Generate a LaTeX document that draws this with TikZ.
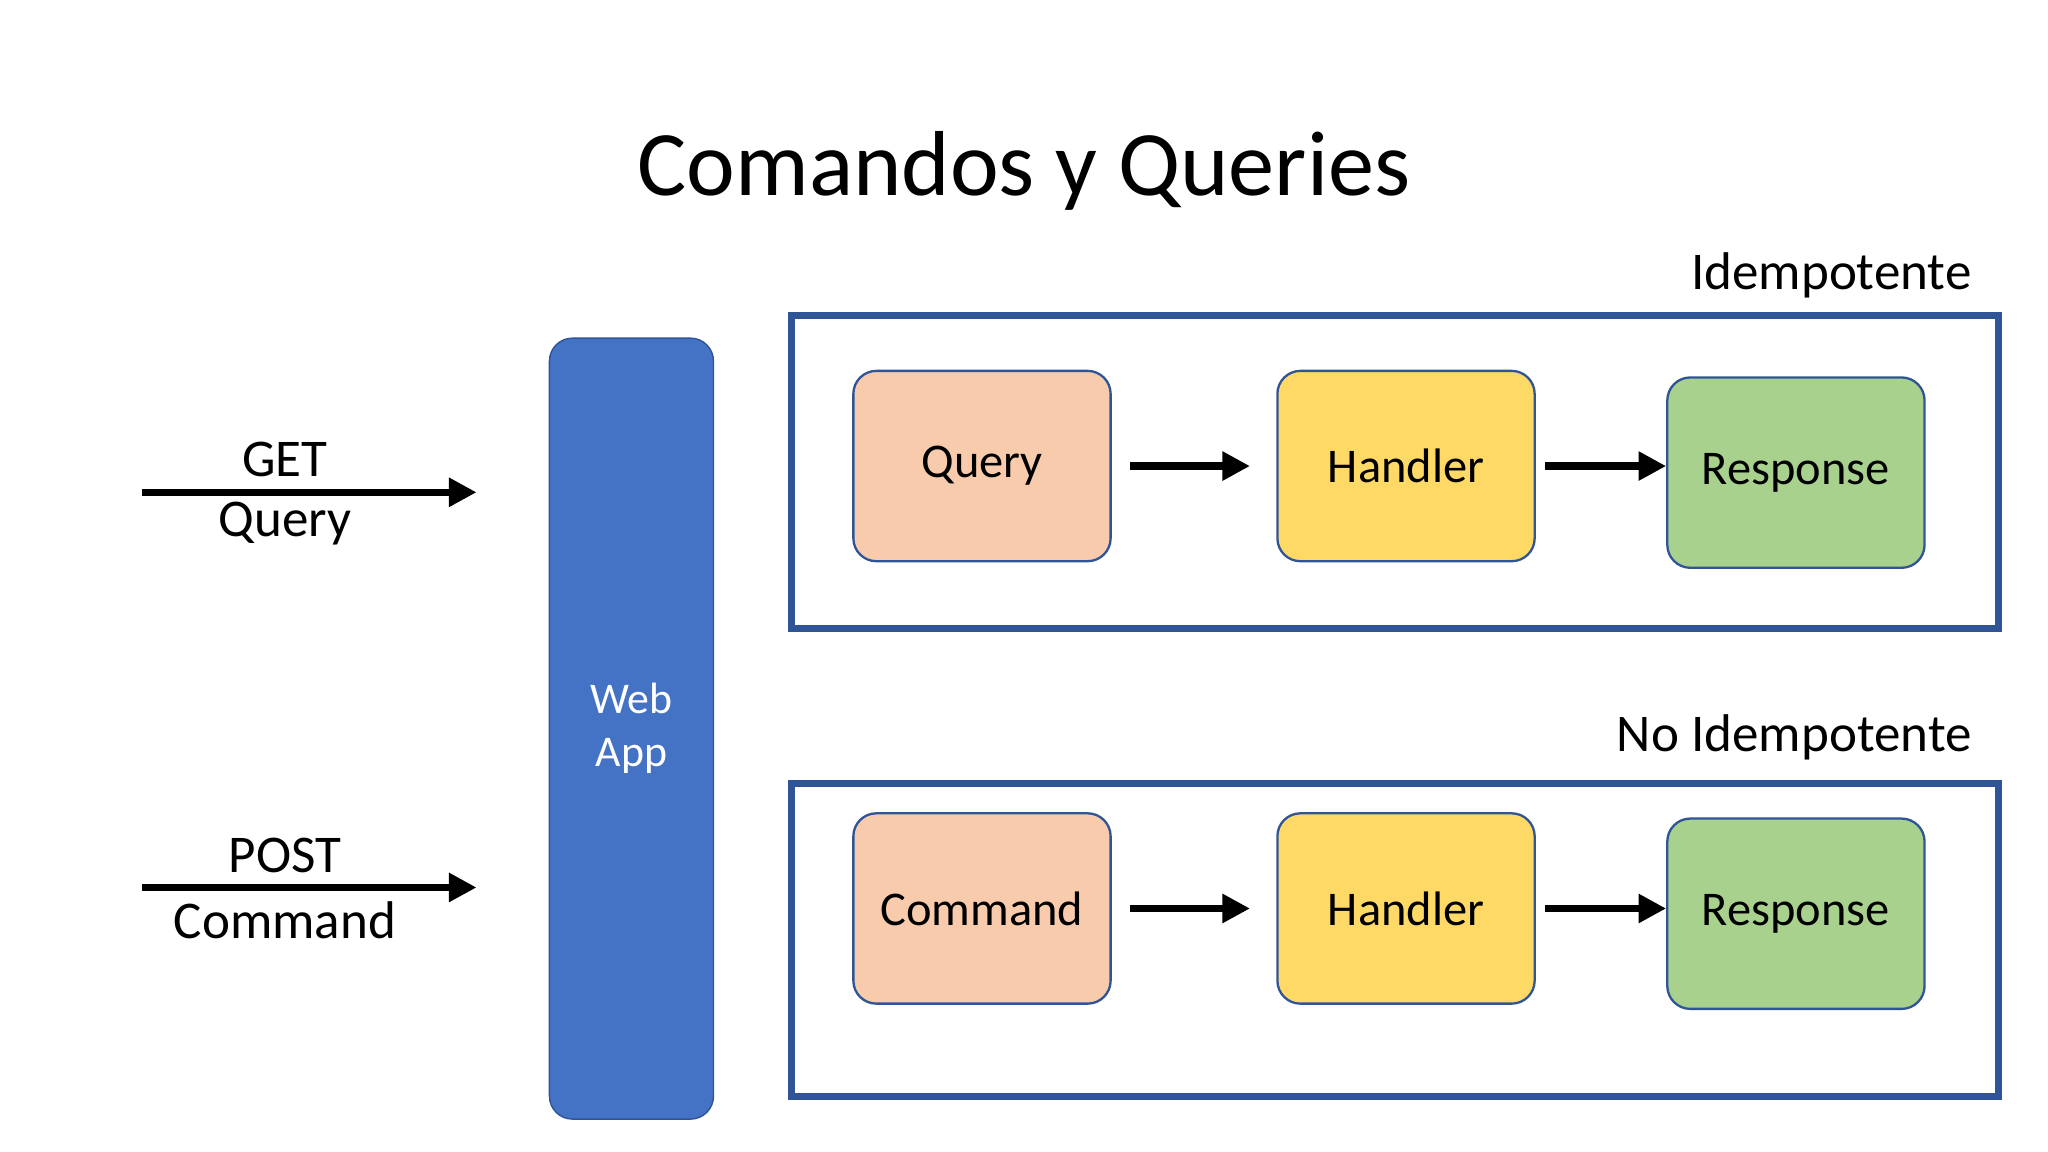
\documentclass[tikz,border=0pt]{standalone}
\usepackage{fontspec}
\setmainfont{Carlito}
\usetikzlibrary{arrows.meta}
\definecolor{frameblue}{HTML}{2F5597}
\definecolor{appblue}{HTML}{4472C4}
\definecolor{qfill}{HTML}{F8CBAD}
\definecolor{hfill}{HTML}{FFD966}
\definecolor{rfill}{HTML}{A9D18E}
\begin{document}
\begin{tikzpicture}[x=0.02cm,y=-0.02cm,
  box/.style={draw=frameblue,line width=1pt,rounded corners=0.35cm,minimum width=3.92cm,minimum height=2.9cm,font=\fontsize{21}{25}\selectfont},
  frame/.style={draw=frameblue,line width=3pt},
  arr/.style={line width=3.2pt,-{Triangle[length=0.42cm,width=0.42cm]}},
  lbl/.style={font=\fontsize{23}{27}\selectfont}]
\useasboundingbox (0,0) rectangle (1560,877.5);
\node[font=\fontsize{40}{48}\selectfont] (title) at (780,130) {Comandos y Queries};
\node[draw=frameblue,fill=appblue,rounded corners=0.35cm,line width=0.6pt,minimum width=2.5cm,minimum height=11.9cm,text=white,align=center,font=\fontsize{19}{23}\selectfont] (app) at (481,555) {Web\\App};
\draw[frame] (603,240) rectangle (1522,479);
\draw[frame] (603,597) rectangle (1522,835);
\node[lbl,anchor=east] (idem) at (1508,210) {Idempotente};
\node[lbl,anchor=east] (noidem) at (1508,562) {No Idempotente};
\node[box,fill=qfill] (q) at (748,355) {Query};
\node[box,fill=hfill] (h1) at (1071,355) {Handler};
\node[box,fill=rfill] (r1) at (1368,360) {Response};
\node[box,fill=qfill] (c) at (748,692) {Command};
\node[box,fill=hfill] (h2) at (1071,692) {Handler};
\node[box,fill=rfill] (r2) at (1368,696) {Response};
\draw[arr] ([xshift=0.28cm]q.east) -- ([xshift=-0.4cm]h1.west);
\draw[arr] ([xshift=0.14cm]h1.east) -- (r1.west|-h1.east);
\draw[arr] ([xshift=0.28cm]c.east) -- ([xshift=-0.4cm]h2.west);
\draw[arr] ([xshift=0.14cm]h2.east) -- (r2.west|-h2.east);
\coordinate (g1) at (108,375); \coordinate (g2) at (363,375);
\coordinate (p1) at (108,676); \coordinate (p2) at (363,676);
\draw[arr] (g1) -- (g2);
\draw[arr] (p1) -- (p2);
\node[lbl] (get) at (217,350) {GET};
\node[lbl] (qy) at (217,399) {Query};
\node[lbl] (post) at (217,652) {POST};
\node[lbl] (cmd) at (217,701) {Command};
\end{tikzpicture}
\end{document}
